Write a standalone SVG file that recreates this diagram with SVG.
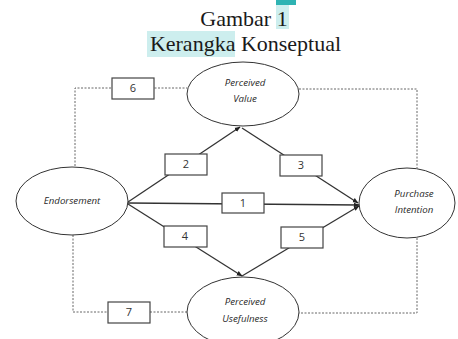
<svg xmlns="http://www.w3.org/2000/svg" width="458" height="339" viewBox="0 0 458 339">
<style>
.t{font-family:"Liberation Serif","Times New Roman",serif;font-size:22px;fill:#1a1a1a}
.n{fill:#fff;stroke:#333;stroke-width:1}
.nl{font-family:"Open Sans","Liberation Sans",sans-serif;font-style:italic;font-size:9.7px;fill:#2a2a2a;text-anchor:middle}
.b{fill:#fff;stroke:#444;stroke-width:1.2}
.bl{font-family:"Open Sans","Liberation Sans",sans-serif;font-size:11px;fill:#333;text-anchor:middle}
.s{stroke:#333;stroke-width:1.3;fill:none}
.d{stroke:#666;stroke-width:1;fill:none;stroke-dasharray:2 1.5}
</style>
<defs>
<marker id="ar" viewBox="0 0 10 10" refX="9" refY="5" markerWidth="6" markerHeight="6" orient="auto" markerUnits="userSpaceOnUse"><path d="M0,1 L10,5 L0,9 z" fill="#222"/></marker>
</defs>
<rect width="458" height="339" fill="#fff"/>
<g id="title">
<rect x="276" y="0" width="20" height="5" fill="#2eb3b3"/>
<rect x="276" y="5" width="13" height="24" fill="#cdeeee"/>
<rect x="147" y="31" width="88" height="26" fill="#cdeeee"/>
<text class="t" x="244" y="26" text-anchor="middle">Gambar 1</text>
<text class="t" x="245.5" y="51" text-anchor="middle">Kerangka Konseptual</text>
</g>
<g id="connectors">
<path class="d" d="M75,166 V88 H187"/>
<path class="d" d="M299,89 H417 V168"/>
<path class="d" d="M73,235 V312 H188"/>
<path class="d" d="M417,238 V313 H299"/>
<line class="s" x1="128" y1="202" x2="240" y2="127" marker-end="url(#ar)"/>
<line class="s" x1="242" y1="128" x2="358" y2="203" marker-end="url(#ar)"/>
<line class="s" x1="128" y1="203" x2="359" y2="205" marker-end="url(#ar)"/>
<line class="s" x1="128" y1="204" x2="242" y2="276" marker-end="url(#ar)"/>
<line class="s" x1="242" y1="276" x2="359" y2="206" marker-end="url(#ar)"/>
</g>
<g id="endorsement"><ellipse class="n" cx="72" cy="201" rx="56" ry="34"/><text class="nl" x="72" y="204">Endorsement</text></g>
<g id="perceived-value"><ellipse class="n" cx="243" cy="94" rx="56" ry="32"/><text class="nl" x="245" y="86">Perceived</text><text class="nl" x="245" y="102">Value</text></g>
<g id="purchase-intention"><ellipse class="n" cx="407" cy="203" rx="48" ry="35"/><text class="nl" x="414" y="197">Purchase</text><text class="nl" x="414" y="213">Intention</text></g>
<g id="perceived-usefulness"><ellipse class="n" cx="243" cy="312" rx="56" ry="35"/><text class="nl" x="245" y="305">Perceived</text><text class="nl" x="245" y="322">Usefulness</text></g>
<g id="box1"><rect class="b" x="222" y="193" width="42" height="20"/><text class="bl" x="243" y="207">1</text></g>
<g id="box2"><rect class="b" x="165" y="154" width="42" height="21"/><text class="bl" x="186" y="168">2</text></g>
<g id="box3"><rect class="b" x="280" y="155" width="42" height="21"/><text class="bl" x="301" y="169">3</text></g>
<g id="box4"><rect class="b" x="164" y="226" width="43" height="21"/><text class="bl" x="185" y="240">4</text></g>
<g id="box5"><rect class="b" x="281" y="227" width="42" height="21"/><text class="bl" x="302" y="241">5</text></g>
<g id="box6"><rect class="b" x="112" y="78" width="42" height="21"/><text class="bl" x="133" y="92">6</text></g>
<g id="box7"><rect class="b" x="108" y="302" width="42" height="21"/><text class="bl" x="129" y="316">7</text></g>
</svg>
